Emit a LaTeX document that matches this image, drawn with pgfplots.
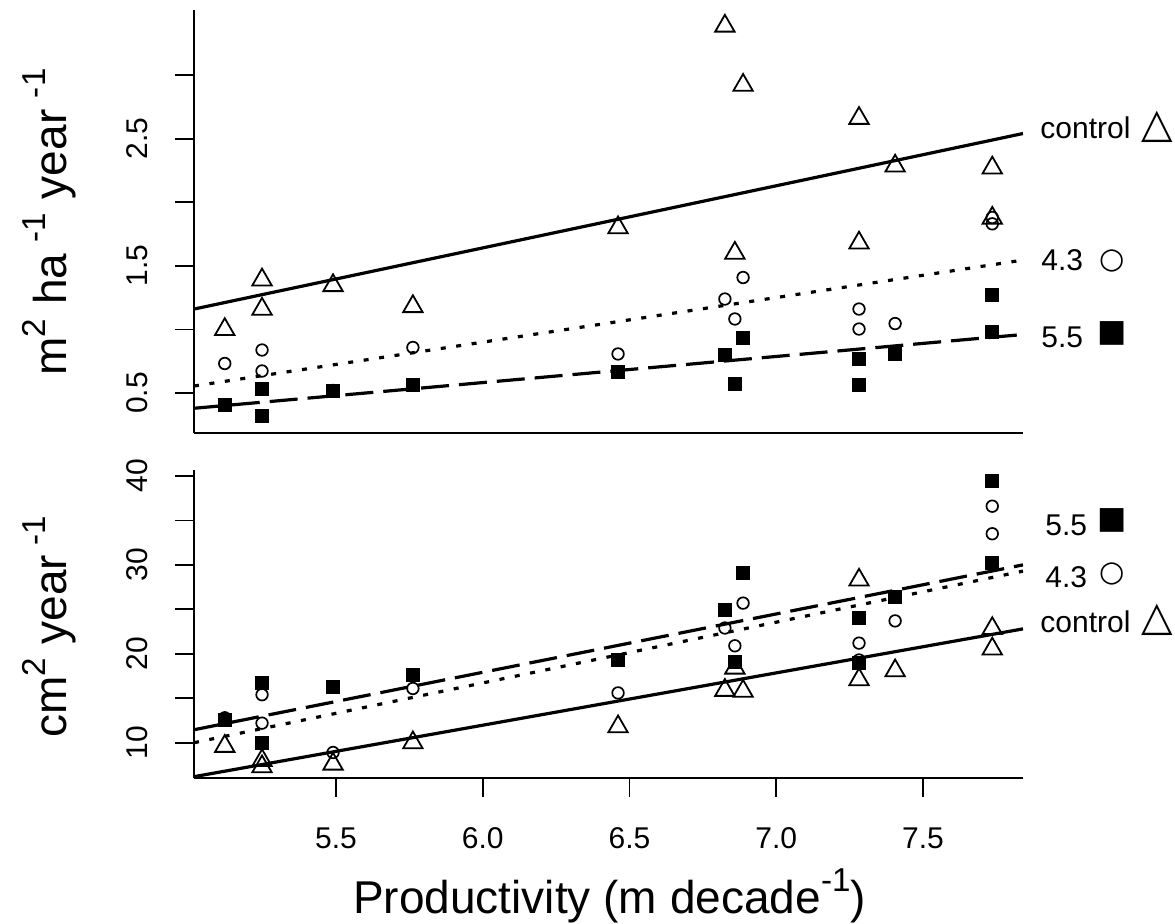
\documentclass[border=0pt]{standalone}
\usepackage{pgfplots}
\pgfplotsset{compat=1.18}
\usepackage{graphicx}
\usepackage{fontspec}
\setmainfont{Liberation Sans}
\newfontfamily\symfont{DejaVu Sans}
\newcommand\tl{\fontsize{15}{18}\selectfont}
\newcommand\labfont{\fontsize{23}{27}\selectfont}
\newcommand\sups[1]{\raisebox{0.47em}{\scalebox{0.72}{#1}}}

\pgfplotsset{
  rbase/.style={
    scale only axis, width=414.5pt,
    xmin=5.0162, xmax=7.8407,
    axis lines=left, axis line style={-, line width=0.9pt},
    tick align=outside, major tick length=9.5pt,
    tick style={black, line width=0.9pt},
    ticklabel style={font=\tl, inner sep=0pt},
    /pgf/number format/assume math mode=true,
    yticklabel style={rotate=90, anchor=south},
    yticklabel shift=13.6pt,
    xticklabel shift=15pt,
  },
  tri/.style={only marks, mark=triangle, mark size=5.6pt, mark options={solid, line width=0.9pt, black, fill=none}},
  circ/.style={only marks, mark=o, mark size=2.9pt, mark options={solid, line width=0.85pt, black}},
  sq/.style={only marks, mark=square*, mark size=3.2pt, mark options={solid, line width=0.6pt, black, fill=black}},
  fitline/.style={no marks, black, line width=1.6pt, line cap=butt},
}

\begin{document}
\begin{tikzpicture}
\useasboundingbox (0,0) rectangle (587.5pt,-461.5pt);

% upper panel: m2 ha-1 year-1
\begin{axis}[rbase, height=211.5pt, at={(97pt,-5pt)}, anchor=north west,
  ymin=0.1855, ymax=3.511,
  xtick=\empty,
  ytick={0.5,1,1.5,2,2.5,3}, yticklabels={0.5,,1.5,,2.5,}]
\addplot[fitline] coordinates {(5.0162,1.16) (7.8407,2.54)};
\addplot[fitline, dash pattern=on 2.5pt off 5.3pt] coordinates {(5.0162,0.555) (7.8407,1.545)};
\addplot[fitline, dash pattern=on 14pt off 5pt] coordinates {(5.0162,0.38) (7.8407,0.96)};
\addplot[tri] table {
5.121 1.00
5.248 1.39
5.248 1.16
5.49 1.345
5.762 1.18
6.461 1.80
6.825 3.385
6.859 1.60
6.887 2.92
7.282 2.66
7.282 1.68
7.405 2.285
7.736 2.27
7.736 1.875
};
\addplot[circ] table {
5.121 0.732
5.248 0.838
5.248 0.673
5.49 0.52
5.762 0.858
6.461 0.807
6.825 1.239
6.859 1.082
6.887 1.408
7.282 1.16
7.282 1.003
7.405 1.046
7.736 1.83
7.736 1.88
};
\addplot[sq] table {
5.121 0.406
5.248 0.535
5.248 0.319
5.49 0.512
5.762 0.563
6.461 0.669
6.825 0.80
6.859 0.571
6.887 0.936
7.282 0.767
7.282 0.563
7.405 0.807
7.736 1.27
7.736 0.976
};
\end{axis}

% lower panel: cm2 year-1
\begin{axis}[rbase, height=154pt, at={(97pt,-235pt)}, anchor=north west,
  ymin=6.03, ymax=40.67,
  xtick={5.5,6,6.5,7,7.5}, xticklabels={5.5,6.0,6.5,7.0,7.5},
  ytick={10,15,20,25,30,35,40}, yticklabels={10,,20,,30,,40}]
\addplot[fitline] coordinates {(5.0162,6.18) (7.8407,22.8)};
\addplot[fitline, dash pattern=on 2.5pt off 5.3pt] coordinates {(5.0162,10.0) (7.8407,29.3)};
\addplot[fitline, dash pattern=on 14pt off 5pt] coordinates {(5.0162,11.46) (7.8407,30.0)};
\addplot[tri] table {
5.121 9.6
5.248 8.0
5.248 7.3
5.49 7.6
5.762 10.0
6.461 11.8
6.825 15.9
6.859 18.4
6.887 15.8
7.282 28.3
7.282 17.1
7.405 18.1
7.736 22.85
7.736 20.55
};
\addplot[circ] table {
5.121 12.8
5.248 15.4
5.248 12.2
5.49 8.9
5.762 16.1
6.461 15.6
6.825 22.9
6.859 20.9
6.887 25.7
7.282 21.2
7.282 19.3
7.405 23.7
7.736 36.6
7.736 33.5
};
\addplot[sq] table {
5.121 12.5
5.248 16.7
5.248 10.0
5.49 16.3
5.762 17.6
6.461 19.3
6.825 24.9
6.859 19.1
6.887 29.1
7.282 24.0
7.282 19.0
7.405 26.4
7.736 39.4
7.736 30.2
};
\end{axis}

% labels, positions in pixels of the 1175x923 image
\begin{scope}[x=0.5pt, y=-0.5pt]
\node[rotate=90, anchor=base, inner sep=0pt, font=\labfont] at (67,222)
  {m\sups{2}\hspace{0.3em}ha\hspace{0.25em}\sups{-1}\hspace{0.3em}year\hspace{0.25em}\sups{-1}};
\node[rotate=90, anchor=base, inner sep=0pt, font=\labfont] at (67,627)
  {cm\sups{2}\hspace{0.3em}year\hspace{0.2em}\sups{-1}};
\node[anchor=base, inner sep=0pt, font=\labfont] at (609.5,913)
  {Productivity (m decade\sups{-1})};

\node[anchor=base west, inner sep=0pt, font=\tl] at (1040,138) {control};
\node[anchor=base west, inner sep=0pt, font=\tl] at (1041,270) {4.3};
\node[anchor=base west, inner sep=0pt, font=\tl] at (1041,347) {5.5};
\node[inner sep=0pt, font=\symfont\fontsize{20.5}{21}\selectfont] at (1157,126.5) {△};
\node[inner sep=0pt, font=\symfont\fontsize{14.5}{15}\selectfont] at (1112.5,260.5) {○};
\node[inner sep=0pt, font=\symfont\fontsize{15.5}{16}\selectfont] at (1112.5,333) {■};

\node[anchor=base west, inner sep=0pt, font=\tl] at (1045,535) {5.5};
\node[anchor=base west, inner sep=0pt, font=\tl] at (1045,587) {4.3};
\node[anchor=base west, inner sep=0pt, font=\tl] at (1040,632) {control};
\node[inner sep=0pt, font=\symfont\fontsize{15.5}{16}\selectfont] at (1112.5,520.5) {■};
\node[inner sep=0pt, font=\symfont\fontsize{14.5}{15}\selectfont] at (1112.5,574) {○};
\node[inner sep=0pt, font=\symfont\fontsize{20.5}{21}\selectfont] at (1157,619.5) {△};
\end{scope}
\end{tikzpicture}
\end{document}
